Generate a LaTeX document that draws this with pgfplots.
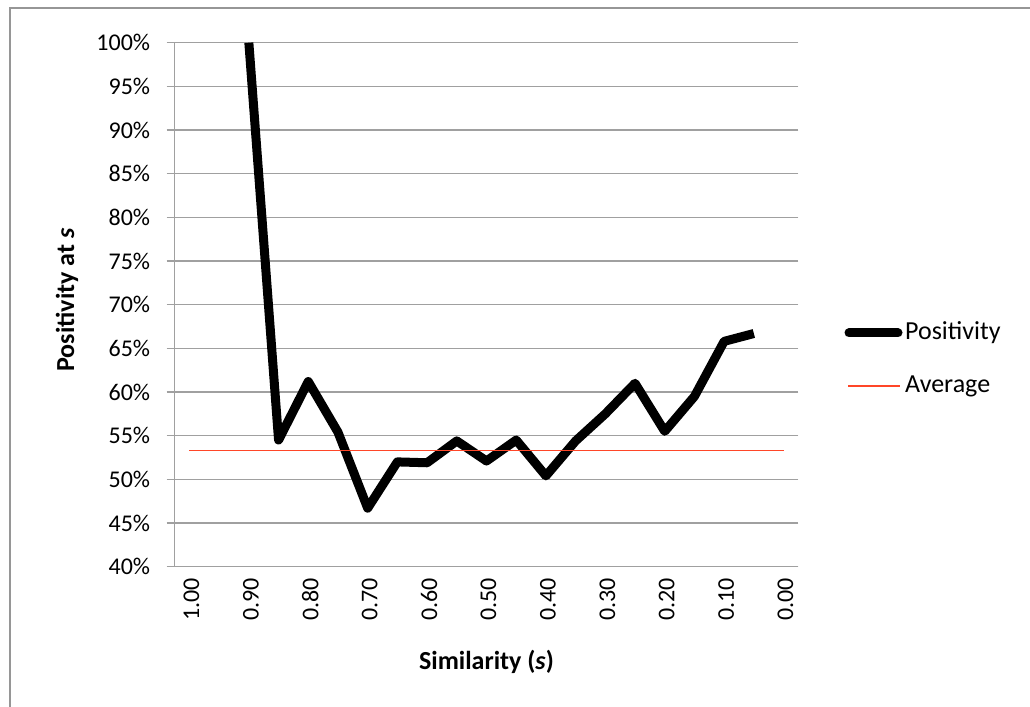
\documentclass[border=0pt]{standalone}
\usepackage{fontspec}
\setmainfont{Carlito}
\usepackage{pgfplots}
\pgfplotsset{compat=1.18}
\definecolor{axisgray}{RGB}{160,160,160}
\definecolor{framegray}{RGB}{150,150,150}
\definecolor{avgred}{RGB}{255,70,40}
\begin{document}
\begin{tikzpicture}[x=1bp,y=1bp]
\useasboundingbox (0,0) rectangle (1030,707);
\draw[color=framegray, line width=2bp] (10,0) -- (10,699) -- (1030,699);
\begin{axis}[
  at={(174.6bp,140.3bp)}, anchor=south west,
  scale only axis, width=623.8bp, height=524bp,
  xmin=-0.025, xmax=1.025, x dir=reverse,
  ymin=40, ymax=100,
  axis lines*=left,
  axis line style={draw=axisgray, line width=1.5bp},
  xtick={0,0.1,0.2,0.3,0.4,0.5,0.6,0.7,0.8,0.9,1},
  xticklabels={0.00,0.10,0.20,0.30,0.40,0.50,0.60,0.70,0.80,0.90,1.00},
  ytick={40,45,50,55,60,65,70,75,80,85,90,95,100},
  yticklabels={40\%,45\%,50\%,55\%,60\%,65\%,70\%,75\%,80\%,85\%,90\%,95\%,100\%},
  ymajorgrids,
  major grid style={draw=axisgray, line width=1.5bp},
  xtick style={draw=none},
  ytick style={draw=axisgray, line width=1.5bp},
  tick align=outside,
  major tick length=8bp,
  xticklabel style={rotate=90, anchor=east, yshift=-2bp, font=\fontsize{24bp}{28bp}\selectfont},
  yticklabel style={anchor=east, xshift=-13bp, font=\fontsize{24bp}{28bp}\selectfont},
  clip=true,
]
\addplot[color=black, line width=9bp, line join=round] coordinates {
  (0.90,100) (0.85,54.5) (0.80,61.2) (0.75,55.4) (0.70,46.7) (0.65,52.0)
  (0.60,51.9) (0.55,54.4) (0.50,52.1) (0.45,54.5) (0.40,50.4) (0.35,54.4)
  (0.30,57.5) (0.25,61.0) (0.20,55.5) (0.15,59.5) (0.10,65.8) (0.05,66.7)
};
\addplot[color=avgred, line width=1.5bp] coordinates {
  (1.00,53.3) (0.95,53.3) (0.90,53.3) (0.85,53.3) (0.80,53.3) (0.75,53.3)
  (0.70,53.3) (0.65,53.3) (0.60,53.3) (0.55,53.3) (0.50,53.3) (0.45,53.3)
  (0.40,53.3) (0.35,53.3) (0.30,53.3) (0.25,53.3) (0.20,53.3) (0.15,53.3)
  (0.10,53.3) (0.05,53.3) (0.00,53.3)
};
\end{axis}
\node[font=\fontsize{26bp}{31bp}\selectfont\bfseries] at (486.5,45) {Similarity (\textit{s})};
\node[font=\fontsize{26bp}{31bp}\selectfont\bfseries, rotate=90] at (67,407) {Positivity at \textit{s}};
\draw[black, line width=9bp, line cap=round] (849,374) -- (898,374);
\node[anchor=west, inner sep=0pt, font=\fontsize{26bp}{31bp}\selectfont] at (905,374) {Positivity};
\draw[avgred, line width=1.5bp] (848,321) -- (900,321);
\node[anchor=west, inner sep=0pt, font=\fontsize{26bp}{31bp}\selectfont] at (905,321) {Average};
\end{tikzpicture}
\end{document}
